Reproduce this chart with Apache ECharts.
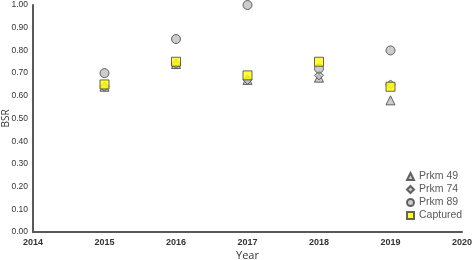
<!DOCTYPE html>
<html><head><meta charset="utf-8">
<script src="https://cdn.jsdelivr.net/npm/echarts@6/dist/echarts.min.js"></script>
<style>html,body{margin:0;padding:0;background:#fff}#c{width:474px;height:260px}</style>
</head><body><div id="c"></div>
<script>
var years = [2015, 2016, 2017, 2018, 2019];
var prkm49 = [0.64, 0.74, 0.67, 0.68, 0.58];
var prkm74 = [0.64, 0.74, 0.67, 0.69, 0.65];
var prkm89 = [0.70, 0.85, 1.00, 0.72, 0.80];
var captured = [0.65, 0.75, 0.69, 0.75, 0.64];
var seriesNames = ['Prkm 49', 'Prkm 74', 'Prkm 89', 'Captured'];

function pts(v){ return years.map(function(y,i){ return [y, v[i]]; }); }
var diamond = 'path://M0,-1L1,0L0,1L-1,0Z';
var narrow = "'Liberation Sans Narrow', 'Liberation Sans', sans-serif";
var chart = echarts.init(document.getElementById('c'));
var base = { type:'scatter', symbolSize:9, itemStyle:{ color:'#bfbfbf', borderColor:'#404040', borderWidth:1 } };
chart.setOption({
  animation:false,
  grid:{ left:33, right:12, top:5, bottom:28, containLabel:false, outerBoundsMode:'none' },
  legend:{ orient:'vertical', left:401, top:165, itemWidth:7, itemHeight:7, itemGap:0,
    textStyle:{ color:'#595959', fontSize:10.5, lineHeight:13, fontFamily:'Liberation Sans' }, data:seriesNames },
  xAxis:{ type:'value', min:2014, max:2020, interval:1,
    name:'Year', nameLocation:'middle', nameGap:18, nameMoveOverlap:false, nameTextStyle:{ color:'#333', fontSize:11, fontFamily:'Open Sans' },
    axisLine:{ lineStyle:{ color:'#595959', width:2 } }, axisTick:{ show:false }, splitLine:{ show:false },
    axisLabel:{ color:'#333', fontSize:9, fontFamily:narrow, fontWeight:'bold', margin:6, formatter:function(v){return String(v);} } },
  yAxis:{ type:'value', min:0, max:1, interval:0.1,
    name:'BSR', nameLocation:'middle', nameGap:22, nameMoveOverlap:false, nameTextStyle:{ color:'#333', fontSize:10, fontFamily:'Open Sans' },
    axisLine:{ show:true, lineStyle:{ color:'#595959', width:2 } }, axisTick:{ show:false }, splitLine:{ show:false },
    axisLabel:{ color:'#333', fontSize:8.5, fontFamily:narrow, margin:5, formatter:function(v){return v.toFixed(2);} } },
  series:[
    Object.assign({}, base, { name:'Prkm 49', symbol:'triangle', symbolSize:9, data:pts(prkm49) }),
    Object.assign({}, base, { name:'Prkm 74', symbol:diamond, symbolSize:9, data:pts(prkm74) }),
    Object.assign({}, base, { name:'Prkm 89', symbol:'circle', symbolSize:9, data:pts(prkm89) }),
    Object.assign({}, base, { name:'Captured', symbol:'rect', symbolSize:9, itemStyle:{ color:'#ffff00', borderColor:'#404040', borderWidth:1 }, data:pts(captured) })
  ]
});
</script></body></html>
